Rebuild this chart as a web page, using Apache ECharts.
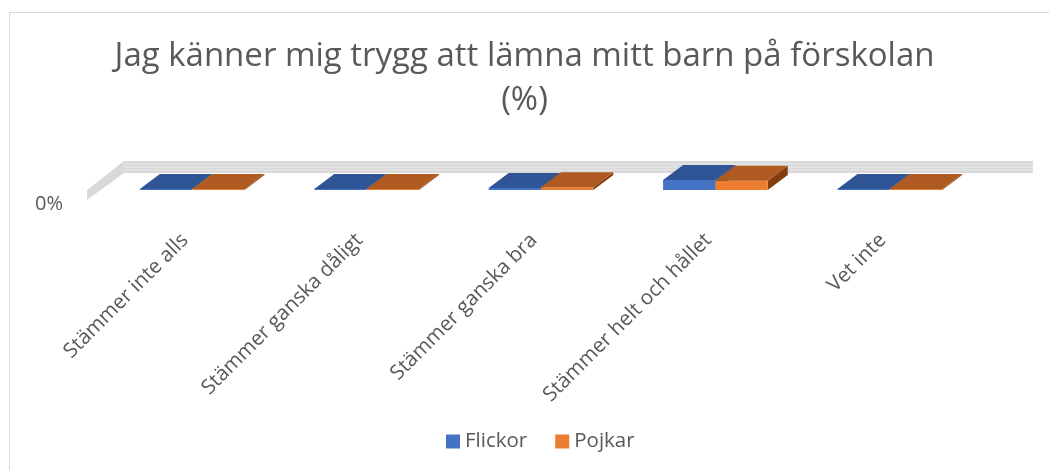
<!DOCTYPE html>
<html>
<head>
<meta charset="utf-8">
<script src="https://cdn.jsdelivr.net/npm/echarts@6/dist/echarts.min.js"></script>
<style>
html,body{margin:0;padding:0;background:#fff;}
#main{width:1049px;height:470px;}
#frame{position:absolute;left:9px;top:12px;width:1100px;height:500px;border:1px solid #d9d9d9;box-sizing:border-box;pointer-events:none;}
</style>
</head>
<body>
<div id="main"></div>
<div id="frame"></div>
<script>
// data
var categories = ['Stämmer inte alls', 'Stämmer ganska dåligt', 'Stämmer ganska bra', 'Stämmer helt och hållet', 'Vet inte'];
var flickor = [0, 0, 17, 83, 0];
var pojkar = [0, 0, 22, 78, 0];
var yTicks = [0];

var DX = 20, DY = -15;

function barItem(offset, front, top, side) {
  return function (params, api) {
    var i = api.value(0);
    var base = api.coord([i, 0]);
    var tip = api.coord([i, api.value(1)]);
    var band = api.size([1, 0])[0];
    var w = band * 0.3;
    var x0 = base[0] + offset * w;
    var yb = base[1];
    var yt = Math.min(tip[1], yb - 1);
    return {
      type: 'group',
      children: [
        {type: 'polygon', shape: {points: [[x0 + w, yt], [x0 + w + DX, yt + DY], [x0 + w + DX, yb + DY], [x0 + w, yb]]}, style: {fill: side}},
        {type: 'rect', shape: {x: x0, y: yt, width: w, height: yb - yt}, style: {fill: front}},
        {type: 'polygon', shape: {points: [[x0, yt], [x0 + w, yt], [x0 + w + DX, yt + DY], [x0 + DX, yt + DY]]}, style: {fill: top}}
      ]
    };
  };
}

function wallItem(params, api) {
  var cs = params.coordSys;
  var yb = cs.y + cs.height;
  var L = cs.x, R = cs.x + cs.width;
  var pts = [[L - 18, yb], [L + 19, yb - 29], [R + 56, yb - 29], [R + 56, yb - 17], [L + 19, yb - 17], [L - 18, yb + 10]];
  var kids = [{type: 'polygon', shape: {points: pts}, style: {fill: '#d9d9d9'}}];
  for (var k = 3; k < 12; k += 3) {
    kids.push({type: 'line', shape: {x1: L + 19, y1: yb - 29 + k, x2: R + 56, y2: yb - 29 + k}, style: {stroke: '#e9e9e9', lineWidth: 1}});
  }
  return {type: 'group', children: kids};
}

var myChart = echarts.init(document.getElementById('main'));
var option = {
  animation: false,
  title: {
    text: 'Jag känner mig trygg att lämna mitt barn på förskolan\n(%)',
    left: 'center',
    top: 30,
    textStyle: {fontFamily: 'Open Sans', fontSize: 33, fontWeight: 'normal', color: '#595959', lineHeight: 44}
  },
  legend: {
    data: ['Flickor', 'Pojkar'],
    bottom: 13,
    left: 441,
    icon: 'rect',
    itemWidth: 14,
    itemHeight: 14,
    itemGap: 28,
    textStyle: {fontFamily: 'Open Sans', fontSize: 20.5, color: '#595959'}
  },
  grid: {left: 105, right: 72, top: 178, bottom: 280},
  xAxis: {
    type: 'category',
    data: categories,
    axisLine: {show: false},
    axisTick: {show: false},
    axisLabel: {rotate: 45, margin: 40, padding: [0, 10, 0, 0], interval: 0, fontFamily: 'Open Sans', fontSize: 20.5, color: '#595959'}
  },
  yAxis: {
    type: 'value',
    min: 0,
    max: 100,
    interval: 100,
    splitLine: {show: false},
    axisLine: {show: false},
    axisLabel: {
      margin: 42,
      verticalAlign: 'top',
      padding: [4, 0, 0, 0],
      fontFamily: 'Open Sans', fontSize: 20, color: '#595959',
      formatter: function (v) { return yTicks.indexOf(v) >= 0 ? v + '%' : ''; }
    }
  },
  series: [
    {type: 'custom', name: 'wall', renderItem: wallItem, data: [[0, 0]], silent: true, z: 1},
    {type: 'custom', name: 'Flickor', itemStyle: {color: '#4472C4'}, renderItem: barItem(-1, '#4472C4', '#2F5597', '#203864'),
      data: flickor.map(function (v, i) { return [i, v]; }), z: 2},
    {type: 'custom', name: 'Pojkar', itemStyle: {color: '#ED7D31'}, renderItem: barItem(0, '#ED7D31', '#AE5A21', '#843C0C'),
      data: pojkar.map(function (v, i) { return [i, v]; }), z: 3}
  ]
};
myChart.setOption(option);
</script>
</body>
</html>
